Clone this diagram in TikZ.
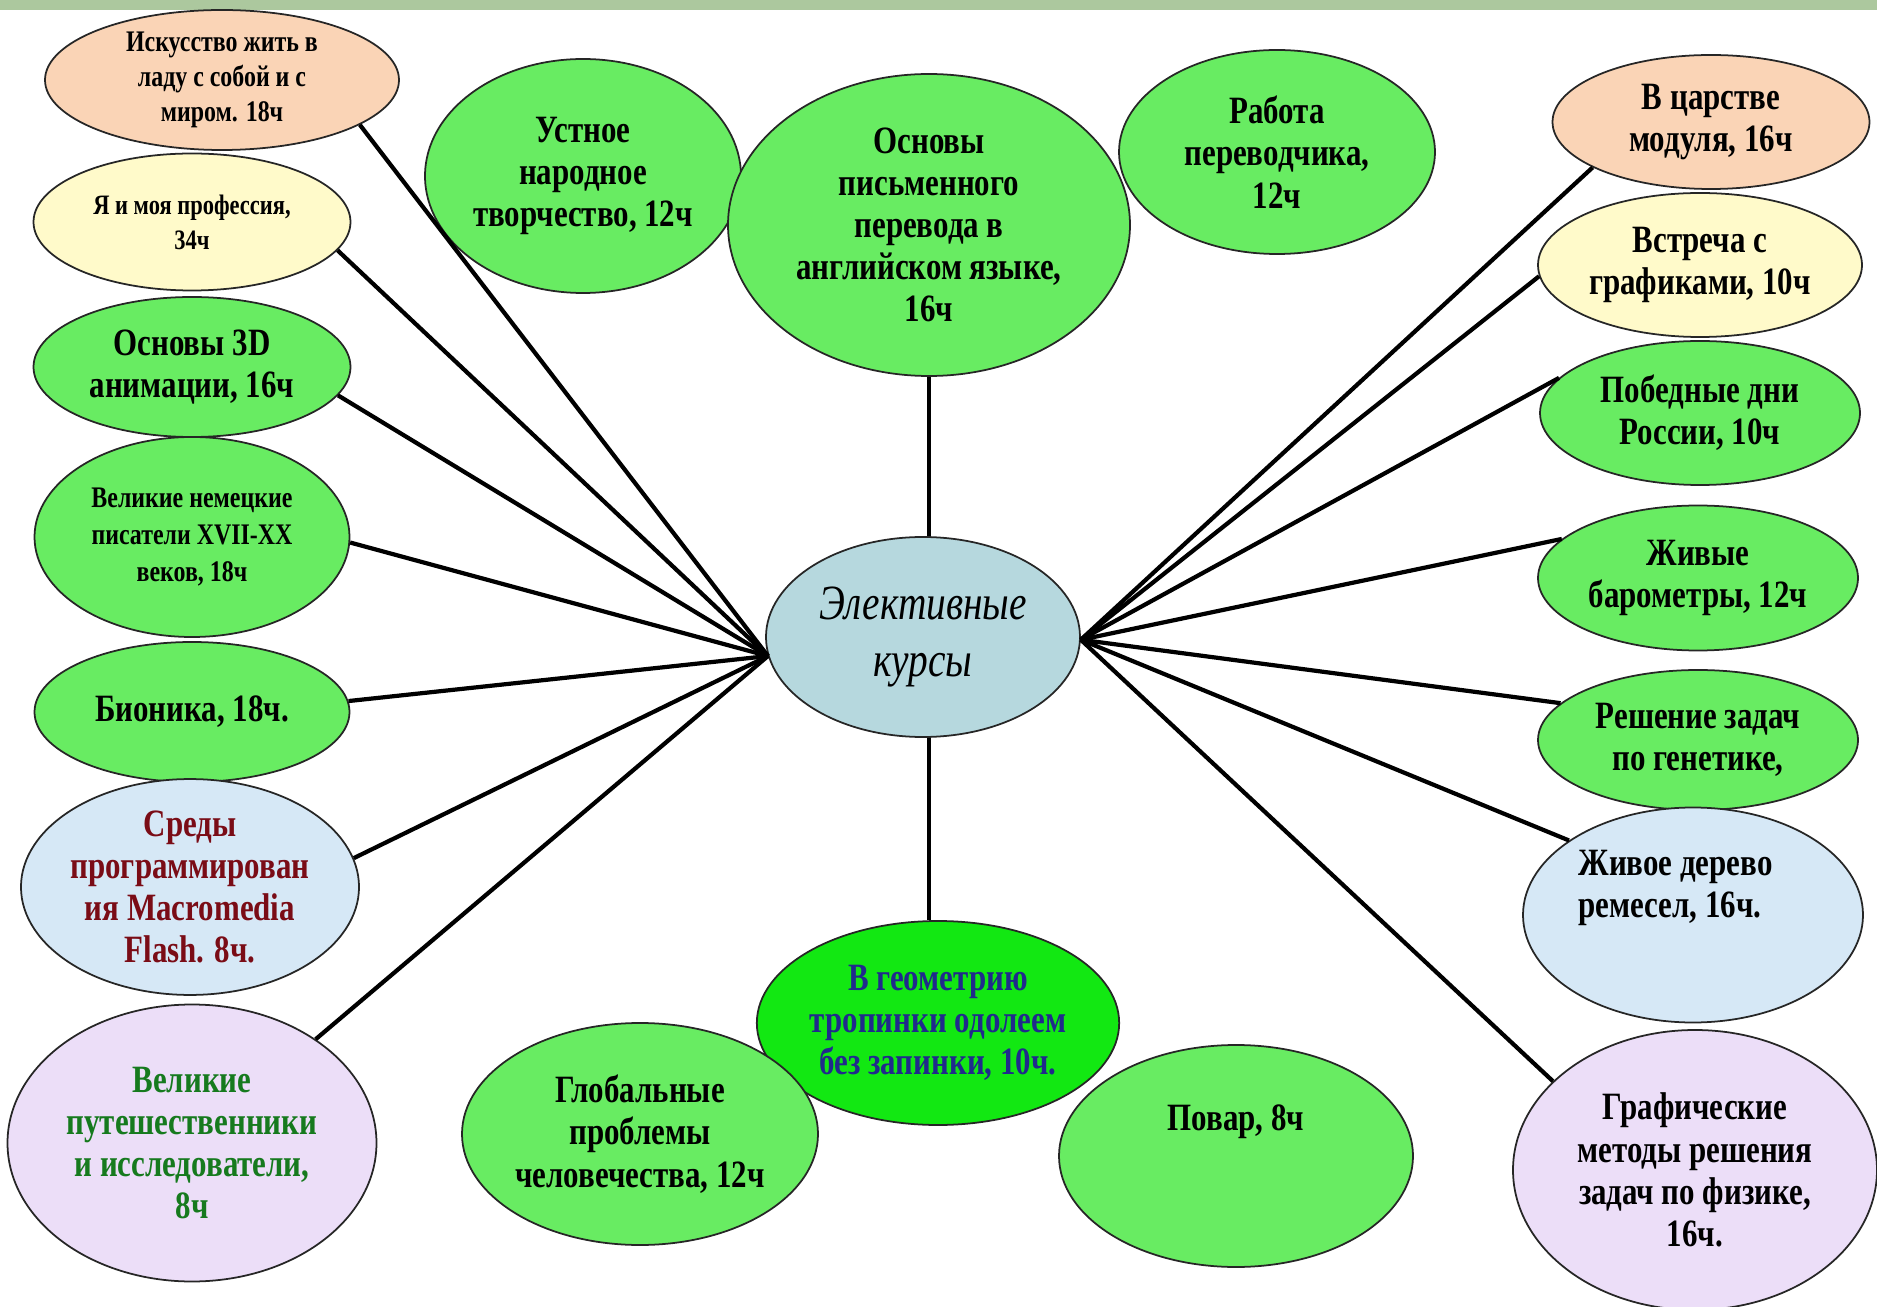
\documentclass[tikz,border=0pt]{standalone}
\usepackage{fontspec}
\setmainfont{Liberation Serif}
\newfontfamily\nfont{Liberation Serif}[FakeStretch=0.8]
\usetikzlibrary{shapes.geometric}

\definecolor{band}{RGB}{172,200,158}
\definecolor{lgreen}{RGB}{104,236,98}
\definecolor{bgreen}{RGB}{18,232,18}
\definecolor{peach}{RGB}{250,212,182}
\definecolor{cream}{RGB}{255,250,202}
\definecolor{iceblue}{RGB}{214,232,246}
\definecolor{lilac}{RGB}{236,222,248}
\definecolor{teal}{RGB}{182,216,222}
\definecolor{darkred}{RGB}{122,12,22}
\definecolor{darkgreen}{RGB}{22,122,30}
\definecolor{darkblue}{RGB}{32,42,140}

\newcommand\fsz[2]{\fontsize{#1}{#2}\selectfont}

\begin{document}
\begin{tikzpicture}[x=0.1mm, y=-0.1mm,
    oval/.style = {ellipse, draw=black!85, line width=0.5pt, inner sep=0pt, align=center,
                   fill=lgreen, font=\nfont\bfseries\fsz{11}{12}},
    link/.style = {line width=1.2pt}]
    \useasboundingbox (0,0) rectangle (1877,1307);
    \fill[band] (0,0) rectangle (1877,10);

    % left column
    \node[oval, fill=peach, minimum width=35.4mm, minimum height=14mm, font=\nfont\bfseries\fsz{8.5}{10}]
        (art) at (222,80) {Искусство жить в\\ладу с собой и с\\миром. 18ч};
    \node[oval, fill=cream, minimum width=31.7mm, minimum height=13.7mm, font=\nfont\bfseries\fsz{8}{10}]
        (prof) at (192,222) {Я и моя профессия,\\34ч};
    \node[oval, minimum width=31.7mm, minimum height=14mm]
        (anim) at (192,367) {Основы 3D\\анимации, 16ч};
    \node[oval, minimum width=31.5mm, minimum height=20mm, font=\nfont\bfseries\fsz{8.5}{10.5}]
        (writers) at (192,537) {Великие немецкие\\писатели XVII-XX\\веков, 18ч};
    \node[oval, minimum width=31.5mm, minimum height=14mm]
        (bionics) at (192,712) {Бионика, 18ч.};
    \node[oval, fill=iceblue, minimum width=33.6mm, minimum height=20.6mm, text=darkred]
        (flash) at (190,887) {Среды\\программирован\\ия Macromedia\\Flash. 8ч.};
    \node[oval, fill=lilac, minimum width=36.9mm, minimum height=27.7mm, text=darkgreen]
        (travel) at (192,1143) {Великие\\путешественники\\и исследователи,\\8ч};

    % top
    \node[oval, minimum width=31.6mm, minimum height=23.4mm]
        (folk) at (583,176) {Устное\\народное\\творчество, 12ч};
    \node[oval, minimum width=40.2mm, minimum height=30.2mm]
        (transl) at (929,225) {Основы\\письменного\\перевода в\\английском языке,\\16ч};
    \node[oval, minimum width=31.6mm, minimum height=20.4mm]
        (work) at (1277,152) {Работа\\переводчика,\\12ч};

    % right column
    \node[oval, fill=peach, minimum width=31.7mm, minimum height=13.4mm]
        (module) at (1711,122) {В царстве\\модуля, 16ч};
    \node[oval, fill=cream, minimum width=32.4mm, minimum height=14.4mm]
        (graphs) at (1700,265) {Встреча с\\графиками, 10ч};
    \node[oval, minimum width=32mm, minimum height=14.4mm]
        (victory) at (1700,413) {Победные дни\\России, 10ч};
    \node[oval, minimum width=32mm, minimum height=14.5mm]
        (barom) at (1698,578) {Живые\\барометры, 12ч};
    \node[oval, minimum width=32mm, minimum height=14mm]
        (genetics) at (1698,740) {Решение задач\\по генетике,};
    \node[oval, fill=iceblue, minimum width=34mm, minimum height=21.5mm]
        (crafts) at (1693,915) {};
    \node[font=\nfont\bfseries\fsz{11}{12}, align=left, anchor=north west]
        (craftstext) at (1566,838) {Живое дерево\\ремесел, 16ч.};
    \node[oval, fill=lilac, minimum width=36.4mm, minimum height=28mm]
        (physics) at (1695,1170) {Графические\\методы решения\\задач по физике,\\16ч.};

    % centre and bottom
    \node[oval, fill=teal, minimum width=31.4mm, minimum height=20mm, font=\nfont\itshape\fsz{14}{16}]
        (hub) at (923,637) {Элективные\\курсы};
    \node[oval, fill=bgreen, minimum width=35mm, minimum height=20.4mm, text=darkblue]
        (geom) at (938,1023) {В геометрию\\тропинки одолеем\\без запинки, 10ч.};
    \node[oval, minimum width=35.6mm, minimum height=22.2mm]
        (global) at (640,1134) {Глобальные\\проблемы\\человечества, 12ч};
    \node[oval, minimum width=35.4mm, minimum height=22.2mm]
        (cook) at (1236,1156) {};
    \node[font=\nfont\bfseries\fsz{11}{12}] (cooktext) at (1236,1122) {Повар, 8ч};

    \foreach \n/\a in {art/-18, prof/-11, anim/-11, writers/-2, bionics/4, flash/10, travel/40}{
        \draw[link] (hub.187) -- (\n.\a);
    }
    \foreach \n/\a in {module/201, graphs/184, victory/166, barom/164, genetics/165, crafts/149, physics/148}{
        \draw[link] (hub.-1) -- (\n.\a);
    }
    \draw[link] (transl.south) -- (transl.south |- hub.north);
    \draw[link] (hub.south -| transl.south) -- (geom.north -| transl.south);
\end{tikzpicture}
\end{document}
